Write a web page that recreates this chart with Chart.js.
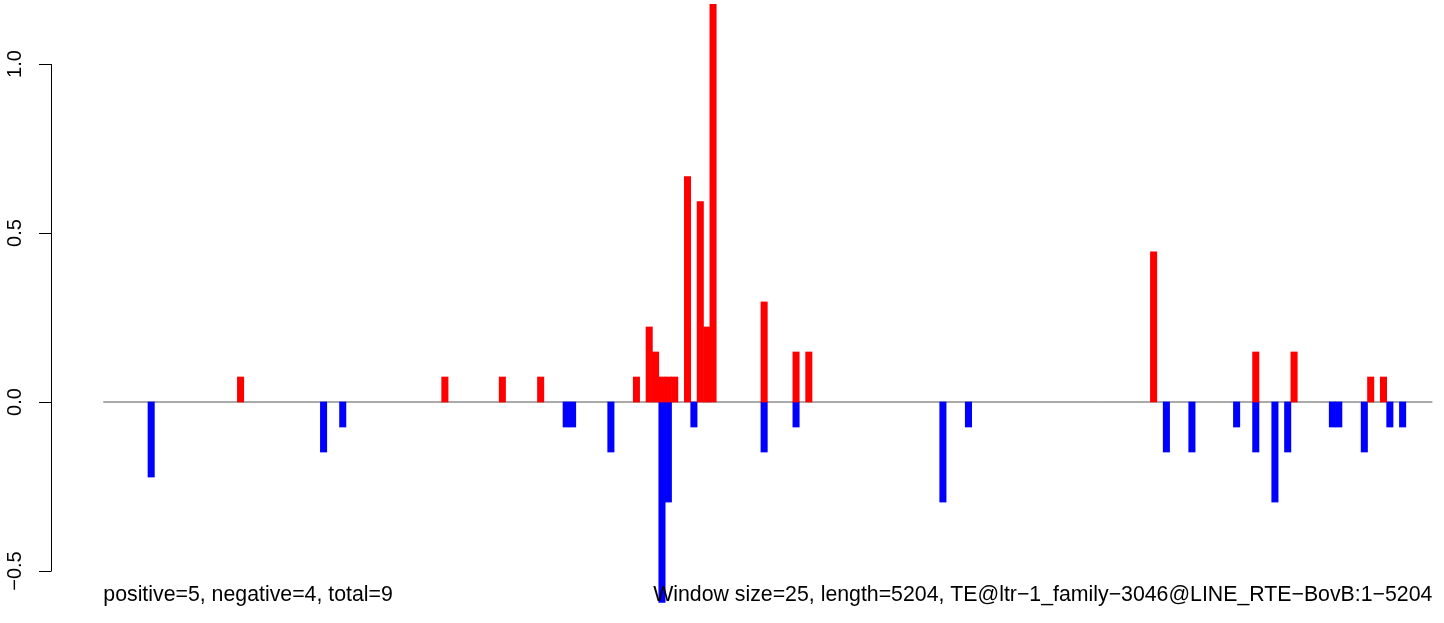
<!DOCTYPE html>
<html>
<head>
<meta charset="utf-8">
<script src="https://cdn.jsdelivr.net/npm/chart.js@4/dist/chart.umd.min.js"></script>
<style>
  html, body { margin: 0; padding: 0; background: #fff; }
  canvas { display: block; }
</style>
</head>
<body>
<canvas id="chart" width="1444" height="623"></canvas>
<script>
(function() {
    'use strict';

    // sequence split in 25bp windows, 5204bp total
    var windowSize = 25;
    var seqLength = 5204;
    var nWindows = seqLength / windowSize;

    // windows with a positive score, and the score
    var posWindows = [21, 53, 62, 68, 83, 85, 86, 87, 88, 89, 91, 93, 94, 95,
                      103, 108, 110, 164, 180, 186, 198, 200];
    var posValues = [0.074, 0.074, 0.074, 0.074, 0.074, 0.222, 0.148, 0.074, 0.074, 0.074,
                     0.667, 0.593, 0.222, 1.185, 0.296, 0.148, 0.148, 0.444, 0.148, 0.148,
                     0.074, 0.074];

    // windows with a negative score
    var negWindows = [7, 34, 37, 72, 73, 79, 87, 88, 92, 103, 108, 131, 135,
                      166, 170, 177, 180, 183, 185, 192, 193, 197, 201, 203];
    var negValues = [-0.222, -0.148, -0.074, -0.074, -0.074, -0.148, -0.593, -0.296,
                     -0.074, -0.148, -0.074, -0.296, -0.074, -0.148, -0.148, -0.074,
                     -0.148, -0.296, -0.148, -0.074, -0.074, -0.148, -0.074, -0.074];

    var yTicks = [-0.5, 0, 0.5, 1.0];
    var yTickLabels = ['\u22120.5', '0.0', '0.5', '1.0'];

    var leftNote = 'positive=5, negative=4, total=9';
    var rightNote = 'Window size=25, length=5204, TE@ltr\u22121_family\u22123046@LINE_RTE\u2212BovB:1\u22125204';

    var FONT = '"Liberation Sans", Arial, Helvetica, sans-serif';

    function toPoints(wins, vals) {
        return wins.map(function(w, i) {
            return { x: w + 0.5, y: vals[i] };
        });
    }

    // R style left axis plus the two notes under the plot
    var decorations = {
        id: 'decorations',
        afterDraw: function(chart) {
            var ctx = chart.ctx;
            var xs = chart.scales.x;
            var ys = chart.scales.y;
            var axisX = chart.chartArea.left;

            ctx.save();
            ctx.strokeStyle = '#000';
            ctx.lineWidth = 1;
            ctx.beginPath();
            ctx.moveTo(axisX + 0.5, Math.round(ys.getPixelForValue(yTicks[0])));
            ctx.lineTo(axisX + 0.5, Math.round(ys.getPixelForValue(yTicks[yTicks.length - 1])));
            yTicks.forEach(function(t) {
                var py = Math.round(ys.getPixelForValue(t)) + 0.5;
                ctx.moveTo(axisX + 0.5, py);
                ctx.lineTo(axisX - 12, py);
            });
            ctx.stroke();

            ctx.fillStyle = '#000';
            ctx.font = '20px ' + FONT;
            ctx.textAlign = 'center';
            ctx.textBaseline = 'alphabetic';
            yTicks.forEach(function(t, i) {
                ctx.save();
                ctx.translate(axisX - 30, ys.getPixelForValue(t));
                ctx.rotate(-Math.PI / 2);
                ctx.fillText(yTickLabels[i], 0, 0);
                ctx.restore();
            });

            ctx.font = '21.3px ' + FONT;
            ctx.textAlign = 'left';
            ctx.fillText(leftNote, xs.getPixelForValue(0), 601);
            ctx.textAlign = 'right';
            ctx.fillText(rightNote, xs.getPixelForValue(nWindows), 601);
            ctx.restore();
        }
    };

    new Chart(document.getElementById('chart').getContext('2d'), {
        type: 'bar',
        data: {
            datasets: [{
                type: 'line',
                data: [{ x: 0, y: 0 }, { x: nWindows, y: 0 }],
                borderColor: '#555',
                borderWidth: 1,
                pointRadius: 0,
                order: 2
            }, {
                data: toPoints(posWindows, posValues),
                backgroundColor: '#ff0000',
                borderWidth: 0,
                order: 1
            }, {
                data: toPoints(negWindows, negValues),
                backgroundColor: '#0000ff',
                borderWidth: 0,
                order: 1
            }]
        },
        options: {
            responsive: false,
            animation: false,
            devicePixelRatio: 1,
            layout: { padding: { left: 51, right: 0, top: 4, bottom: 0 } },
            datasets: {
                bar: { grouped: false, barPercentage: 1, categoryPercentage: 1 }
            },
            plugins: { legend: { display: false }, tooltip: { enabled: false } },
            scales: {
                x: { type: 'linear', min: -8.19, max: 209.98, offset: false, display: false },
                y: { type: 'linear', min: -0.6538, max: 1.1775, display: false }
            }
        },
        plugins: [decorations]
    });
}());
</script>
</body>
</html>
